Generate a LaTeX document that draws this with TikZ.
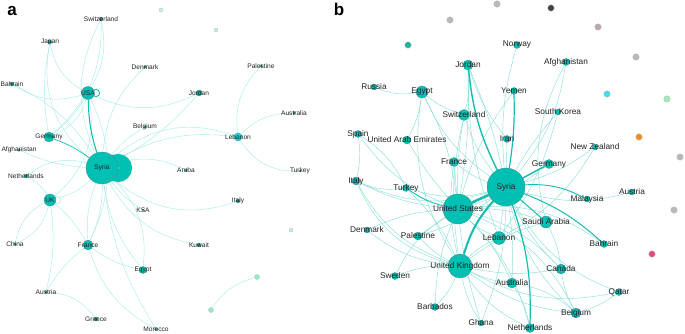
\documentclass[tikz,border=0pt]{standalone}
\usepackage{fontspec}
\setmainfont{Liberation Sans}
\usetikzlibrary{backgrounds}
\definecolor{tealnode}{HTML}{00BFB3}
\definecolor{tealdark}{HTML}{0E9E95}
\definecolor{nodeline}{HTML}{4D8A84}
\definecolor{edgea}{HTML}{A8ECEA}
\definecolor{edgelight}{HTML}{8AE0D8}
\definecolor{edgeteal}{HTML}{14BDB0}
\definecolor{cyanleb}{HTML}{1AD3E0}
\definecolor{isocyan}{HTML}{C2F2F4}
\definecolor{isogreen}{HTML}{8EF0C0}
\definecolor{labelc}{HTML}{222222}
\begin{document}
\begin{tikzpicture}[x=1pt,y=-1pt,
  nd/.style={circle,draw=nodeline,line width=0.3pt,fill=tealnode,inner sep=0pt,minimum size=#1},
  dot/.style={circle,draw=nodeline,line width=0.2pt,fill=tealdark,inner sep=0pt,minimum size=#1},
  iso/.style={circle,draw=gray!60,line width=0.3pt,fill=#1,inner sep=0pt,minimum size=6.5},
  lbla/.style={font=\fontsize{6.6}{7}\selectfont,text=labelc,inner sep=0pt},
  lblb/.style={font=\fontsize{8.3}{9}\selectfont,text=labelc,inner sep=0pt},
  panel/.style={font=\fontsize{17}{17}\selectfont\bfseries,inner sep=0pt},
  lna/.style={draw=edgea,line width=0.45pt},
  ln/.style={draw=edgelight,line width=0.45pt},
  lnb/.style={draw=edgeteal,line width=#1}]
  \useasboundingbox (0,0) rectangle (685,334);

  % panel a
  \node[panel] (pa) at (12,11) {a};
  \foreach \id/\x/\y/\d/\txt in {aSwi/101/19/4/Switzerland,aJap/50/42/4/Japan,aBah/12/84/4/Bahrain,
      aDen/145/67/3/Denmark,aJor/199/93/6/Jordan,aPal/261/66/3/Palestine,aAus/294/113/3/Australia,
      aBel/145/127/3/Belgium,aAfg/19/150/3/Afghanistan,aAru/186/170/3/Aruba,aTur/300/171/2/Turkey,
      aNet/26/176/4/Netherlands,aIta/238/201/4/Italy,aKSA/143/210/2/KSA,aChi/15/244/3/China,
      aKuw/199/245/4/Kuwait,aAut/46/292/3/Austria,aGre/96/319/4/Greece,aMor/156/329/3/Morocco}
    {\node[dot=\d] (\id) at (\x,\y) {};
     \node[lbla] (\id-t) at (\id) {\txt};}
  \foreach \id/\x/\y/\d/\txt in {aUsa/88/93/13/USA,aGer/49/137/10/Germany,aSyr/102/168/32/Syria,
      aUK/50/200/12/UK,aFra/88/245/10/France,aEgy/143/270/7/Egypt}
    {\node[nd=\d] (\id) at (\x,\y) {};
     \node[lbla] (\id-t) at (\id) {\txt};}
  \node[nd=8,fill=cyanleb] (aLeb) at (238,137) {};
  \node[lbla] (aLeb-t) at (aLeb) {Lebanon};
  \node[iso=isocyan,minimum size=4] (aIs1) at (161,10) {};
  \node[iso=isocyan,minimum size=4] (aIs2) at (216,30) {};
  \node[iso=isocyan,minimum size=4] (aIs3) at (291,230) {};
  \node[iso=isogreen,minimum size=5] (aGr1) at (257,277) {};
  \node[iso=isogreen,minimum size=5] (aGr2) at (211,310) {};

  % panel b
  \node[panel] (pb) at (339,9) {b};
  \foreach \id/\x/\y/\d/\txt in {bNor/517/45/7/Norway,bAfg/566/62/7/Afghanistan,bJor/468/65/10/Jordan,
      bRus/374/87/6/Russia,bEgy/422/92/12/Egypt,bYem/514/91/7/Yemen,bSwi/464/115/11/Switzerland,
      bKor/558/112/6/South Korea,bSpa/358/134/7/Spain,bUAE/407/140/8/United Arab Emirates,
      bIra/507/139/7/Iran,bNZ/595/147/6/New Zealand,bFra/454/162/9/France,bGer/549/164/9/Germany,
      bSyr/506/187/38/Syria,bIta/356/181/8/Italy,bTur/406/188/7/Turkey,bAut/632/192/6/Austria,
      bUS/458/209/30/United States,bMal/587/199/6/Malaysia,bSau/546/222/12/Saudi Arabia,
      bDen/367/230/6/Denmark,bPal/418/236/8/Palestine,bLeb/499/238/13/Lebanon,bBah/604/244/7/Bahrain,
      bUK/460/266/24/United Kingdom,bCan/561/269/10/Canada,bSwe/395/276/7/Sweden,
      bAus/512/283/10/Australia,bQat/619/292/7/Qatar,bBar/435/307/7/Barbados,bBel/576/313/10/Belgium,
      bGha/481/323/6/Ghana,bNet/530/328/9/Netherlands}
    {\node[nd=\d] (\id) at (\x,\y) {};
     \node[lblb] (\id-t) at (\id) {\txt};}
  \foreach \id/\x/\y/\c in {bIs1/497/4/gray!55,bIs2/551/8/black!75,bIs3/450/20/gray!55,
      bIs4/598/27/{rgb,255:red,196;green,166;blue,166},bIs5/636/57/gray!55,
      bIs6/408/45/{rgb,255:red,23;green,184;blue,151},bIs7/607/94/{rgb,255:red,62;green,224;blue,240},
      bIs8/667/99/{rgb,255:red,157;green,238;blue,184},bIs9/639/137/{rgb,255:red,240;green,140;blue,30},
      bIs10/680/157/gray!55,bIs11/674/210/gray!55,bIs12/652/254/{rgb,255:red,232;green,71;blue,122}}
    {\node[iso=\c] (\id) at (\x,\y) {};}

  \begin{scope}[on background layer]
    % edges a
    \foreach \p/\q/\k in {aSyr/aSwi/25,aSyr/aJap/30,aSyr/aDen/20,aSyr/aJor/-10,aSyr/aBel/10,
        aSyr/aLeb/30,aSyr/aLeb/18,aSyr/aAfg/10,aSyr/aAru/20,aSyr/aNet/-25,aSyr/aUK/15,
        aSyr/aIta/-30,aSyr/aKSA/-10,aSyr/aFra/12,aSyr/aFra/-12,aSyr/aKuw/-25,aSyr/aEgy/25,
        aSyr/aEgy/-15,aSyr/aMor/-12,aSyr/aBah/-15,aUsa/aSwi/-20,aUsa/aJap/25,aUsa/aBah/25,
        aUsa/aJor/-25,aUsa/aGer/10,aUsa/aFra/25,aGer/aJap/10,aGer/aSwi/-25,aGer/aUsa/-25,
        aUK/aChi/25,aUK/aChi/-25,aUK/aFra/10,aUK/aAut/10,aUK/aNet/-15,aUK/aUsa/-30,
        aFra/aAut/-10,aFra/aEgy/-12,aFra/aMor/-22,aAut/aGre/25,aLeb/aPal/25,aLeb/aAus/22,
        aLeb/aTur/-30,aGr1/aGr2/-20}
      {\draw[lna] (\p) to[bend left=\k] (\q);}
    \draw[lnb=1.1pt] (aSyr) to[bend left=8] (aUsa);
    \draw[lnb=0.7pt] (aSyr) to[bend left=-8] (aGer);
    \draw[tealnode,line width=13pt] ([xshift=16]aSyr.center) circle (7.5);
    \draw[edgeteal,line width=0.9pt,fill=white] ([xshift=8]aUsa.center) circle (3.6);
    \draw[edgea,line width=0.7pt,fill=white] ([xshift=7]aUK.center) circle (3.4);
    % edges b
    \foreach \p/\q/\k in {bSyr/bNor/10,bSyr/bAfg/-15,bSyr/bSwi/10,bSyr/bIra/0,bSyr/bNZ/-10,
        bSyr/bKor/5,bSyr/bEgy/15,bSyr/bFra/10,bSyr/bTur/15,bSyr/bIta/20,bSyr/bAut/-15,
        bSyr/bLeb/0,bSyr/bCan/-10,bSyr/bAus/5,bSyr/bBel/-15,bSyr/bQat/-20,bSyr/bPal/10,
        bSyr/bGha/10,bSyr/bJor/-5,bUS/bEgy/-10,bUS/bSwi/5,bUS/bJor/-5,bUS/bFra/0,bUS/bIta/10,
        bUS/bSpa/15,bUS/bDen/-10,bUS/bPal/0,bUS/bSwe/-15,bUS/bLeb/-10,bUS/bSau/10,bUS/bCan/15,
        bUS/bAus/10,bUS/bBel/20,bUS/bBar/-10,bUS/bGha/-5,bUS/bNet/15,bUS/bGer/-10,bUS/bUAE/5,
        bUS/bBah/20,bUS/bYem/10,bUK/bIta/20,bUK/bTur/-10,bUK/bSwe/-10,bUK/bBar/10,bUK/bGha/-10,
        bUK/bAus/-10,bUK/bBel/-15,bUK/bNet/-15,bUK/bCan/-10,bUK/bSau/10,bUK/bQat/-20,
        bUK/bLeb/10,bUK/bPal/10,bUK/bDen/15,bUK/bSwi/10,bUK/bEgy/20,bUK/bFra/10,bEgy/bRus/15,
        bEgy/bSwi/-10,bEgy/bUAE/10,bJor/bSwi/10,bJor/bIra/-10,bSpa/bTur/15,bSpa/bIta/10,
        bIta/bTur/-15,bAfg/bSau/-20,bKor/bLeb/10,bAus/bNet/10,bBel/bQat/-10,bCan/bBel/-10,
        bSau/bCan/10,bAus/bBel/15,bJor/bLeb/-10,bNZ/bLeb/15,bIta/bUK/-25}
      {\draw[ln] (\p) to[bend left=\k] (\q);}
    \foreach \p/\q/\k/\w in {bSyr/bUS/0/2.6pt,bSyr/bUK/-12/2pt,bSyr/bJor/10/1.4pt,
        bSyr/bYem/-5/1.2pt,bSyr/bGer/0/1.4pt,bSyr/bNet/10/1.2pt,bSyr/bSau/0/1pt,
        bSyr/bBah/10/1pt,bSyr/bMal/15/0.9pt,bUS/bTur/10/0.9pt}
      {\draw[lnb=\w] (\p) to[bend left=\k] (\q);}
  \end{scope}
\end{tikzpicture}
\end{document}
